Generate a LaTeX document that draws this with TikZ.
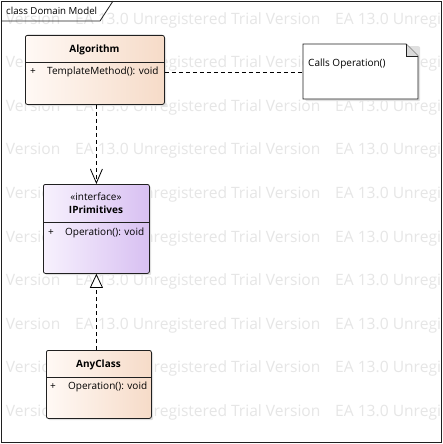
\documentclass[tikz,border=0pt]{standalone}
\usepackage{fontspec}
\setmainfont{Open Sans}
\usetikzlibrary{arrows.meta,shapes.misc}
\definecolor{algL}{HTML}{FFF9F5}
\definecolor{algR}{HTML}{F6DBC8}
\definecolor{ipL}{HTML}{F7F1FD}
\definecolor{ipR}{HTML}{D8C0F2}
\definecolor{wmark}{HTML}{E6E6E6}
\definecolor{edge}{HTML}{202020}
\tikzset{
  umlbox/.style={draw=edge, line width=0.8pt, rounded corners=2pt, anchor=north west, inner sep=0pt},
  algfill/.style={left color=algL, right color=algR},
  ipfill/.style={left color=ipL, right color=ipR},
  shadowbox/.style={fill=black!12, rounded corners=2pt, draw=none, anchor=north west, inner sep=0pt},
  sep/.style={draw=edge, line width=0.8pt},
  member/.style={font=\fontsize{10}{11}\selectfont, anchor=west, inner sep=0pt},
  cname/.style={font=\fontsize{10}{11}\selectfont\bfseries, inner sep=0pt},
  wm/.style={font=\fontsize{15.6}{18}\selectfont, text=wmark, anchor=west, inner sep=0pt},
  dashline/.style={draw=black, line width=0.7pt, dash pattern=on 4pt off 3pt},
}
\begin{document}
\begin{tikzpicture}[x=1pt,y=-1pt]
\useasboundingbox (0,0) rectangle (443,444);
\fill[white] (0,0) rectangle (443,444);
% watermark
\begin{scope}
\clip (1,1) rectangle (441,442);
\foreach \yy in {20,63.6,107.2,150.8,194.4,238,281.6,325.2,368.8,412.4} {
  \foreach \xx in {-185,75,335} {
    \node[wm] at (\xx,\yy) {EA 13.0 Unregistered Trial Version};
  }
}
\end{scope}
% frame
\draw[edge, line width=0.8pt] (1,1) rectangle (441,442);
\draw[edge, line width=0.8pt] (1,21) -- (100,21) -- (113,1);
\node[anchor=west, inner sep=0pt, font=\fontsize{9.7}{11}\selectfont] (title) at (6,11) {class Domain Model};
% Algorithm
\node[shadowbox, minimum width=139pt, minimum height=69pt] at (27,37) {};
\node[umlbox, algfill, minimum width=139pt, minimum height=69pt] (alg) at (25,35) {};
\draw[sep] (25,62) -- (164,62);
\node[cname] (algname) at (94.5,50) {Algorithm};
\node[member] (algp) at (30,72) {+};
\node[member] (algm) at (47,72) {TemplateMethod(): void};
% Note
\node[shadowbox, minimum width=115pt, minimum height=55pt] at (305,46) {};
\fill[white] (303,44) -- (406,44) -- (418,56) -- (418,99) -- (303,99) -- cycle;
\draw[edge, line width=0.8pt] (303,44) -- (406,44) -- (418,56) -- (418,99) -- (303,99) -- cycle;
\fill[black!15] (406,44) -- (406,56) -- (418,56) -- cycle;
\draw[edge, line width=0.6pt] (406,44) -- (406,56) -- (418,56);
\node[inner sep=0pt, minimum width=115pt, minimum height=55pt, anchor=north west] (note) at (303,44) {};
\node[member] (notetext) at (308,64) {Calls Operation()};
% IPrimitives
\node[shadowbox, minimum width=106pt, minimum height=89pt] at (45,186) {};
\node[umlbox, ipfill, minimum width=106pt, minimum height=89pt] (ip) at (43,184) {};
\draw[sep] (43,222) -- (149,222);
\node[inner sep=0pt, font=\fontsize{10}{11}\selectfont] (stereo) at (96,196.5) {«interface»};
\node[cname] (ipname) at (96,210) {IPrimitives};
\node[member] (ipp) at (48,232.5) {+};
\node[member] (ipm) at (65,232.5) {Operation(): void};
% AnyClass
\node[shadowbox, minimum width=105pt, minimum height=68pt] at (48,352) {};
\node[umlbox, algfill, minimum width=105pt, minimum height=68pt] (any) at (46,350) {};
\draw[sep] (46,377) -- (151,377);
\node[cname] (anyname) at (98.5,364.5) {AnyClass};
\node[member] (anyp) at (50,387) {+};
\node[member] (anym) at (68,387) {Operation(): void};
% connectors
\draw[dashline] (alg.east |- algm) -- (note.west |- algm);
\draw[dashline, -{Straight Barb[length=14pt, width=12pt, line width=0.8pt]}] (ip.north |- alg.south) -- (ip.north);
\draw[dashline, -{Triangle[open, length=14pt, width=13pt, fill=white, line width=0.8pt]}] (ip.south |- any.north) -- (ip.south);
\end{tikzpicture}
\end{document}
